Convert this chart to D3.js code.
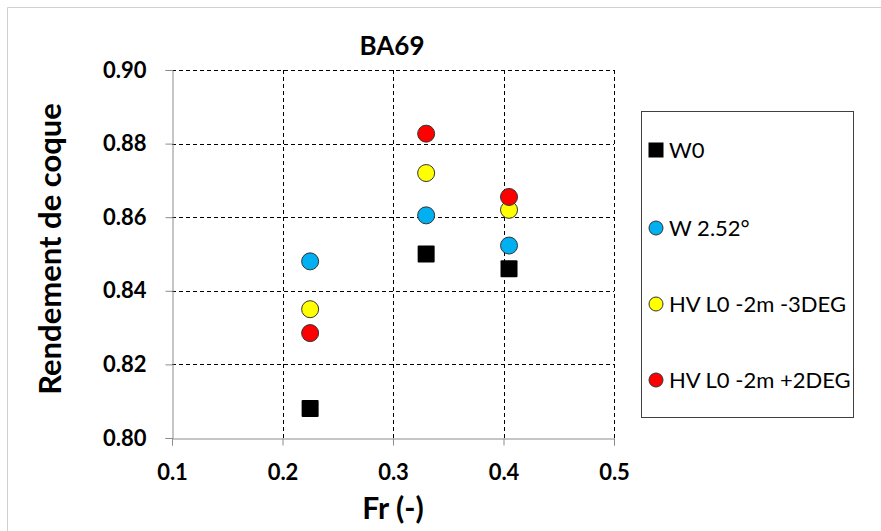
<!DOCTYPE html>
<html>
<head>
<meta charset="utf-8">
<title>BA69</title>
<script src="https://d3js.org/d3.v7.min.js"></script>
<style>
  body { margin: 0; background: #fff; }
  svg { font-family: Lato, "Open Sans", sans-serif; }
</style>
</head>
<body>
<svg width="881" height="531"></svg>
<script>

// values
var seriesNames = ["W0", "W 2.52°", "HV L0 -2m -3DEG", "HV L0 -2m +2DEG"];
var seriesColors = ["#000000", "#00b0f0", "#ffff00", "#ff0000"];
var frValues = [0.225, 0.330, 0.405];
var w0Values = [0.808, 0.850, 0.846];
var w252Values = [0.848, 0.8605, 0.8523];
var hvMinus3Values = [0.835, 0.872, 0.862];
var hvPlus2Values = [0.8285, 0.8827, 0.8655];
var xTicks = [0.1, 0.2, 0.3, 0.4, 0.5];
var yTicks = [0.80, 0.82, 0.84, 0.86, 0.88, 0.90];

var allSeries = [w0Values, w252Values, hvMinus3Values, hvPlus2Values];

var svg = d3.select("svg");

var plotL = 172, plotR = 614, plotT = 70, plotB = 438;

var x = d3.scaleLinear().domain([0.1, 0.5]).range([plotL, plotR]);
var y = d3.scaleLinear().domain([0.80, 0.90]).range([plotB, plotT]);

// outer chart frame (runs past the window on the right and bottom)
svg.append("path")
    .attr("d", "M7.5,540 V7.5 H890")
    .attr("fill", "none")
    .attr("stroke", "#d0d0d0")
    .attr("stroke-width", 1);

// dashed grid
var grid = svg.append("g").attr("stroke", "#000").attr("stroke-dasharray", "4,3").attr("stroke-width", 1);
grid.selectAll(".gx")
  .data(xTicks.slice(1))
  .enter().append("line")
    .attr("x1", function(d) { return Math.round(x(d)) + 0.5; })
    .attr("x2", function(d) { return Math.round(x(d)) + 0.5; })
    .attr("y1", plotT).attr("y2", plotB);
grid.selectAll(".gy")
  .data(yTicks.slice(1))
  .enter().append("line")
    .attr("y1", function(d) { return Math.round(y(d)) + 0.5; })
    .attr("y2", function(d) { return Math.round(y(d)) + 0.5; })
    .attr("x1", plotL).attr("x2", plotR);

// axes
var xAxis = svg.append("g")
    .attr("transform", "translate(0," + (plotB + 0.5) + ")")
    .call(d3.axisBottom(x).tickValues(xTicks).tickFormat(d3.format(".1f")).tickSizeOuter(0).tickSize(7).tickPadding(19));
var yAxis = svg.append("g")
    .attr("transform", "translate(" + (plotL + 0.5) + ",0)")
    .call(d3.axisLeft(y).tickValues(yTicks).tickFormat(d3.format(".2f")).tickSizeOuter(0).tickSize(7).tickPadding(19));

[xAxis, yAxis].forEach(function(a) {
  a.select(".domain").attr("stroke", "#8c8c8c");
  a.selectAll(".tick line").attr("stroke", "#8c8c8c");
  a.selectAll(".tick text")
      .attr("fill", "#000")
      .attr("font-size", 22)
      .attr("font-weight", "bold")
      .attr("font-family", "Lato, 'Open Sans', sans-serif");
});

// markers
allSeries.forEach(function(vals, s) {
  var pts = frValues.map(function(f, i) { return [f, vals[i]]; });
  var g = svg.append("g");
  if (s === 0) {
    g.selectAll("rect")
      .data(pts)
      .enter().append("rect")
        .attr("x", function(d) { return x(d[0]) - 8.5; })
        .attr("y", function(d) { return y(d[1]) - 8.5; })
        .attr("width", 17).attr("height", 17)
        .attr("rx", 1)
        .attr("fill", seriesColors[s]);
  } else {
    g.selectAll("circle")
      .data(pts)
      .enter().append("circle")
        .attr("cx", function(d) { return x(d[0]); })
        .attr("cy", function(d) { return y(d[1]); })
        .attr("r", 8.5)
        .attr("fill", seriesColors[s])
        .attr("stroke", "#333")
        .attr("stroke-width", 1);
  }
});

// titles
svg.append("text")
    .attr("x", 392).attr("y", 55)
    .attr("text-anchor", "middle")
    .attr("font-size", 26).attr("font-weight", "bold")
    .text("BA69");

svg.append("text")
    .attr("x", 393).attr("y", 519)
    .attr("text-anchor", "middle")
    .attr("font-size", 30).attr("font-weight", "bold")
    .text("Fr (-)");

svg.append("text")
    .attr("transform", "translate(61,249) rotate(-90)")
    .attr("text-anchor", "middle")
    .attr("font-size", 31).attr("font-weight", "bold")
    .text("Rendement de coque");

// legend
var legend = svg.append("g");
legend.append("rect")
    .attr("x", 641.5).attr("y", 111.5)
    .attr("width", 212).attr("height", 306)
    .attr("fill", "#fff")
    .attr("stroke", "#404040");

var legendY = [150, 228, 304, 380];
var item = legend.selectAll(".item")
  .data(seriesNames)
  .enter().append("g")
    .attr("transform", function(d, i) { return "translate(656," + legendY[i] + ")"; });

item.each(function(d, i) {
  var g = d3.select(this);
  if (i === 0) {
    g.append("rect").attr("x", -7.5).attr("y", -7.5).attr("width", 15).attr("height", 15).attr("fill", seriesColors[i]);
  } else {
    g.append("circle").attr("r", 7).attr("fill", seriesColors[i]).attr("stroke", "#333");
  }
});

item.append("text")
    .attr("x", 13).attr("y", 8)
    .attr("font-size", 22)
    .text(function(d) { return d; });

</script>
</body>
</html>
